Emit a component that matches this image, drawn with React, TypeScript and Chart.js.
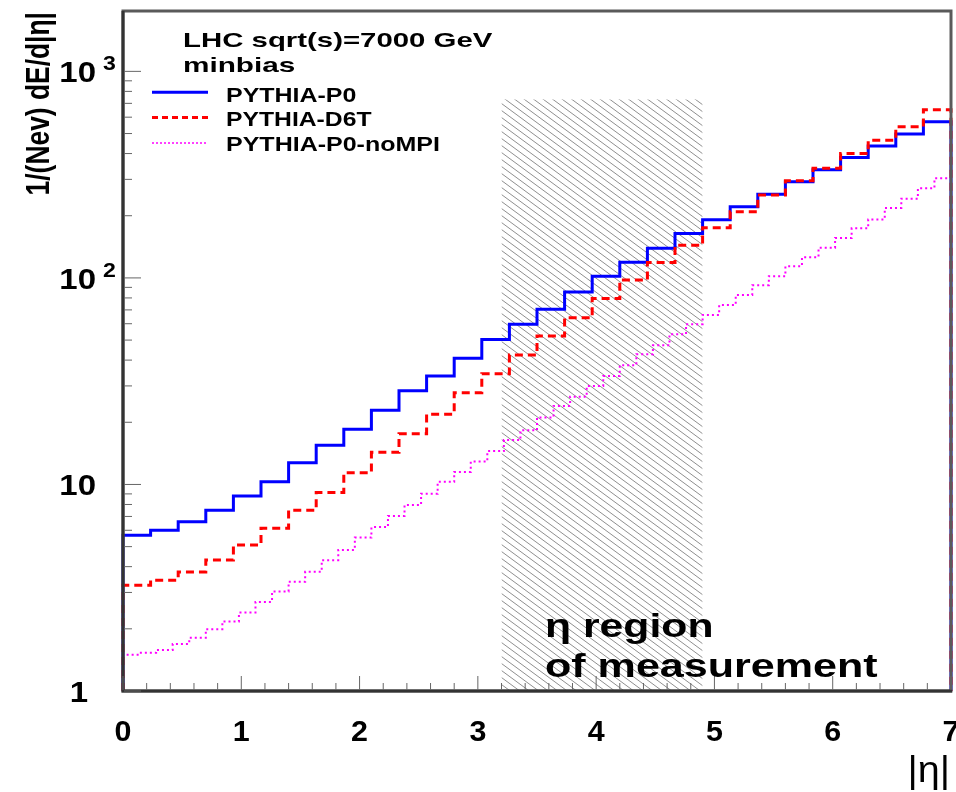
import { useEffect, useRef } from 'react';
import { Chart, registerables } from 'chart.js';

Chart.register(...registerables);

// ---------- data ----------
const ETA_MIN = 0;
const ETA_MAX = 7;
const Y_MIN = 1;
const Y_MAX = 1960;

// PYTHIA-P0 (30 bins in |eta| 0..7)
const pythiaP0 = [
  5.67, 6.0, 6.6, 7.5, 8.8, 10.3, 12.75, 15.5, 18.5, 22.9,
  28.4, 33.5, 40.8, 50.3, 59.7, 70.5, 85.5, 102, 119, 139,
  164, 191, 221, 254, 292, 334, 383, 435, 497, 571,
];
// PYTHIA-D6T (30 bins)
const pythiaD6T = [
  3.25, 3.44, 3.77, 4.31, 5.09, 6.14, 7.5, 9.15, 11.4, 14.3,
  17.6, 21.9, 27.8, 34.4, 42.4, 52.4, 64.2, 79.4, 97.8, 118.6,
  144, 175, 209, 252, 295, 340, 400, 464, 540, 651,
];
// PYTHIA-P0-noMPI (50 bins)
const pythiaP0noMPI = [
  1.5, 1.53, 1.58, 1.69, 1.81, 1.99, 2.17, 2.4, 2.7, 3.03,
  3.38, 3.78, 4.3, 4.82, 5.53, 6.22, 7.04, 7.96, 9.02, 10.3,
  11.5, 12.9, 14.5, 16.4, 18.3, 21.1, 24.0, 26.6, 30.0, 33.5,
  37.8, 42.7, 47.2, 53.4, 59.7, 66.2, 74.0, 82.7, 92.2, 102,
  114, 126, 140, 156, 174, 192, 218, 242, 272, 304,
];

// eta region of measurement (hatched)
const measRegionEta = [3.2, 4.9];
const measRegionTop = 730;

const xTickLabels = ['0', '1', '2', '3', '4', '5', '6', '7'];
const yTickValues = [1, 10, 100, 1000];
const yTickBase = ['1', '10', '10', '10'];
const yTickExp = ['', '', '2', '3'];

const legendTitle = ['LHC sqrt(s)=7000 GeV', 'minbias'];
const legendLabels = ['PYTHIA-P0', 'PYTHIA-D6T', 'PYTHIA-P0-noMPI'];
const annotation = ['\u03b7 region', 'of measurement'];
const yTitle = '1/(Nev) dE/d|\u03b7|';
const xTitle = '|\u03b7|';

// ---------- helpers ----------
const FONT = '"Liberation Sans", Arial, Helvetica, sans-serif';

function histPoints(values: number[]) {
  const w = (ETA_MAX - ETA_MIN) / values.length;
  const pts: { x: number; y: number }[] = [{ x: ETA_MIN, y: Y_MIN }];
  values.forEach((v, i) => pts.push({ x: ETA_MIN + i * w, y: v }));
  pts.push({ x: ETA_MAX, y: values[values.length - 1] });
  pts.push({ x: ETA_MAX, y: Y_MIN });
  return pts;
}

function makeHatch(): CanvasPattern | string {
  const c = document.createElement('canvas');
  c.width = 19;
  c.height = 14;
  const g = c.getContext('2d');
  if (!g) return 'rgba(0,0,0,0.2)';
  const s = 14 / 19;
  const W = 9.5;
  g.strokeStyle = 'rgba(70,70,70,0.72)';
  g.lineWidth = 0.85;
  for (let k = -5; k <= 5; k++) {
    g.beginPath();
    g.moveTo(-20, s * (-20 - k * W));
    g.lineTo(40, s * (40 - k * W));
    g.stroke();
  }
  return g.createPattern(c, 'repeat') || 'rgba(0,0,0,0.2)';
}

function drawText(
  ctx: CanvasRenderingContext2D,
  s: string,
  x: number,
  y: number,
  size: number,
  weight: string,
  opts: { width?: number; sx?: number; align?: CanvasTextAlign } = {}
) {
  ctx.save();
  ctx.font = `${weight} ${size}px ${FONT}`;
  ctx.fillStyle = '#000';
  ctx.textBaseline = 'alphabetic';
  ctx.textAlign = opts.align || 'left';
  let sx = opts.sx || 1;
  if (opts.width) {
    const m = ctx.measureText(s);
    const ink = (m.actualBoundingBoxLeft || 0) + (m.actualBoundingBoxRight || m.width);
    sx = opts.width / ink;
  }
  ctx.translate(x, y);
  ctx.scale(sx, 1);
  ctx.fillText(s, 0, 0);
  ctx.restore();
}

const decorPlugin = {
  id: 'rootDecor',
  afterDatasetsDraw(chart: any) {
    const { ctx, chartArea: a, scales } = chart;
    const xs = scales.x;
    const ys = scales.y;
    ctx.save();

    // frame
    ctx.strokeStyle = '#5a5a5a';
    ctx.lineWidth = 3;
    ctx.strokeRect(a.left, a.top, a.right - a.left, a.bottom - a.top);
    ctx.strokeStyle = '#333';
    ctx.beginPath();
    ctx.moveTo(a.left, a.top);
    ctx.lineTo(a.left, a.bottom);
    ctx.lineTo(a.right + 1, a.bottom);
    ctx.stroke();

    // x ticks (inside)
    ctx.strokeStyle = '#666';
    ctx.lineWidth = 1;
    for (let i = 0; i <= 35; i++) {
      const px = xs.getPixelForValue(ETA_MIN + i * 0.2);
      const len = i % 5 === 0 ? 14 : 7;
      ctx.beginPath();
      ctx.moveTo(px, a.bottom - 1);
      ctx.lineTo(px, a.bottom - 1 - len);
      ctx.stroke();
    }
    // y ticks (inside, log)
    for (const dec of yTickValues) {
      for (let m = 1; m <= 9; m++) {
        const v = m * dec;
        if (v > Y_MAX) break;
        const py = ys.getPixelForValue(v);
        const len = m === 1 ? 17 : 8;
        ctx.beginPath();
        ctx.moveTo(a.left + 1, py);
        ctx.lineTo(a.left + 1 + len, py);
        ctx.stroke();
      }
    }
    ctx.restore();

    // x tick labels
    xTickLabels.forEach((t, i) => {
      const px = xs.getPixelForValue(ETA_MIN + i);
      drawText(ctx, t, px, 741, 29, 'bold', { sx: 1.05, align: 'center' });
    });
    // y tick labels
    yTickValues.forEach((v, i) => {
      const py = ys.getPixelForValue(v);
      const right = i === 0 ? 88 : 96;
      drawText(ctx, yTickBase[i], right, py + 11, 30, 'bold', { sx: 1.1, align: 'right' });
      if (yTickExp[i]) {
        drawText(ctx, yTickExp[i], 103, py - 1, 21, 'bold', { sx: 1.1, align: 'left' });
      }
    });

    // axis titles
    ctx.save();
    ctx.translate(49, 12);
    ctx.rotate(-Math.PI / 2);
    drawText(ctx, yTitle, 0, 0, 33, 'bold', { width: 180, align: 'right' });
    ctx.restore();
    drawText(ctx, xTitle, 950, 782, 36, 'normal', { sx: 1.1, align: 'right' });

    // legend
    drawText(ctx, legendTitle[0], 183, 47, 21, 'bold', { width: 308 });
    drawText(ctx, legendTitle[1], 183, 72, 21, 'bold', { width: 110 });
    const legW = [129, 144, 212];
    const legBase = [101.7, 126, 150.7];
    const legLineY = [92.3, 117.5, 143];
    const legStyle = [
      { c: '#0000ff', w: 3, d: [] as number[] },
      { c: '#ff0000', w: 3, d: [6, 4] },
      { c: '#ff00ff', w: 1.5, d: [2, 2] },
    ];
    legendLabels.forEach((lab, i) => {
      ctx.save();
      ctx.strokeStyle = legStyle[i].c;
      ctx.lineWidth = legStyle[i].w;
      ctx.setLineDash(legStyle[i].d);
      ctx.beginPath();
      ctx.moveTo(152, legLineY[i]);
      ctx.lineTo(208, legLineY[i]);
      ctx.stroke();
      ctx.restore();
      drawText(ctx, lab, 226, legBase[i], 20, 'bold', { width: legW[i] });
    });

    // annotation
    drawText(ctx, annotation[0], 545, 637, 34, 'bold', { width: 165 });
    drawText(ctx, annotation[1], 545, 677, 34, 'bold', { width: 331 });
  },
};

export default function App() {
  const ref = useRef<HTMLCanvasElement | null>(null);
  useEffect(() => {
    if (!ref.current) return;
    const hatch = makeHatch();
    const chart = new Chart(ref.current, {
      type: 'line',
      data: {
        datasets: [
          {
            label: legendLabels[0],
            data: histPoints(pythiaP0),
            stepped: 'before',
            borderColor: '#0000ff',
            borderWidth: 3,
            pointRadius: 0,
            fill: false,
            order: 3,
            clip: false,
          } as any,
          {
            label: legendLabels[1],
            data: histPoints(pythiaD6T),
            stepped: 'before',
            borderColor: '#ff0000',
            borderWidth: 3,
            borderDash: [8, 5],
            pointRadius: 0,
            fill: false,
            order: 2,
            clip: false,
          },
          {
            label: legendLabels[2],
            data: histPoints(pythiaP0noMPI),
            stepped: 'before',
            borderColor: '#ff00ff',
            borderWidth: 2,
            borderDash: [2, 3],
            pointRadius: 0,
            fill: false,
            order: 1,
            clip: false,
          },
          {
            label: 'measurement region',
            data: [
              { x: measRegionEta[0], y: measRegionTop },
              { x: measRegionEta[1], y: measRegionTop },
            ],
            borderColor: 'rgba(0,0,0,0)',
            borderWidth: 0,
            pointRadius: 0,
            fill: 'start',
            backgroundColor: hatch as any,
            order: 4,
          },
        ],
      },
      options: {
        animation: false,
        responsive: false,
        maintainAspectRatio: false,
        devicePixelRatio: 1,
        layout: { padding: { left: 123, right: 5, top: 11, bottom: 101 } },
        scales: {
          x: { type: 'linear', min: ETA_MIN, max: ETA_MAX, display: false },
          y: { type: 'logarithmic', min: Y_MIN, max: Y_MAX, display: false },
        },
        plugins: {
          legend: { display: false },
          tooltip: { enabled: false },
        },
      },
      plugins: [decorPlugin],
    });
    return () => chart.destroy();
  }, []);

  return (
    <div style={{ position: 'absolute', left: 0, top: 0, width: 956, height: 792, background: '#fff' }}>
      <canvas ref={ref} width={956} height={792} style={{ width: 956, height: 792, display: 'block' }} />
    </div>
  );
}
